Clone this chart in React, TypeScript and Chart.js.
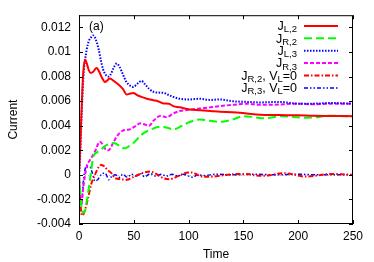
import React, { useEffect, useRef } from "react";
import { Chart, registerables } from "chart.js";

Chart.register(...registerables);

// ---- axis ticks ----
const xTicks = [0, 50, 100, 150, 200, 250];
const yTicks = [-0.004, -0.002, 0, 0.002, 0.004, 0.006, 0.008, 0.01, 0.012];

// ---- J_L,2 (red solid) ----
const jL2T = [0, 1, 2, 3, 4, 5.5, 7, 9, 10.7, 13, 16, 19, 21, 23.7, 26, 28, 31, 36, 40, 43.5, 46, 49.5, 53, 57, 62, 68, 72, 77, 82, 86, 92, 101, 110, 120, 129, 140, 153, 165, 183, 200, 214, 230, 250];
const jL2V = [0, 0.002, 0.0045, 0.0068, 0.0085, 0.0094, 0.0091, 0.0085, 0.0083, 0.0084, 0.0087, 0.0083, 0.0079, 0.00757, 0.0077, 0.00784, 0.0077, 0.00735, 0.007, 0.00654, 0.0066, 0.00667, 0.0065, 0.00635, 0.0062, 0.00608, 0.006, 0.00581, 0.0058, 0.0056, 0.0055, 0.00533, 0.00527, 0.0052, 0.00513, 0.0051, 0.005, 0.0049, 0.00487, 0.00485, 0.00481, 0.0048, 0.00478];

// ---- J_R,2 (green dashed) ----
const jR2T = [0, 1, 2, 3.5, 5.5, 7, 8.5, 10, 11.5, 13, 16, 19, 22, 25, 28, 31, 33, 36, 39, 42, 45, 49.5, 54, 58.7, 63, 68, 72, 77, 82, 86, 90, 95, 101, 110, 120, 128.6, 140, 150, 160, 168, 177, 186, 197, 208, 218, 226, 238, 250];
const jR2V = [0, -0.0012, -0.0024, -0.0031, -0.0029, -0.0022, -0.00135, -0.0004, 0.0006, 0.00148, 0.0018, 0.002, 0.0022, 0.00243, 0.0025, 0.0026, 0.00257, 0.0024, 0.0022, 0.00216, 0.0023, 0.00257, 0.003, 0.00338, 0.0036, 0.00378, 0.0039, 0.0039, 0.0038, 0.0037, 0.0038, 0.00405, 0.0043, 0.0045, 0.0044, 0.00432, 0.0045, 0.00478, 0.0047, 0.0046, 0.0047, 0.00478, 0.0047, 0.00465, 0.0047, 0.00481, 0.0048, 0.00473];

// ---- J_L,3 (blue dotted) ----
const jL3T = [0, 1, 2, 3, 4, 5.5, 7, 9, 11, 13, 15, 18, 20, 22, 24, 26.7, 29, 31, 34.4, 37, 40, 43, 46, 49.5, 53, 57, 60, 64, 68, 72, 77, 82, 86, 92, 101, 110, 120, 128, 140, 153, 165, 183, 200, 213, 230, 250];
const jL3V = [0, 0.0015, 0.004, 0.0062, 0.008, 0.0093, 0.0102, 0.0109, 0.0112, 0.01135, 0.0111, 0.0102, 0.0093, 0.0086, 0.0082, 0.008, 0.0082, 0.0086, 0.00906, 0.0088, 0.0082, 0.0076, 0.0073, 0.00716, 0.0074, 0.00765, 0.0074, 0.007, 0.00676, 0.0067, 0.00668, 0.0065, 0.00635, 0.0062, 0.00614, 0.0062, 0.0061, 0.00614, 0.006, 0.00594, 0.0059, 0.00594, 0.0058, 0.0058, 0.00585, 0.0058];

// ---- J_R,3 (magenta dashed) ----
const jR3T = [0, 1, 2, 4, 7, 10, 14.6, 19, 22, 24, 27, 31, 35, 40, 46, 52, 56, 60, 64, 68, 74, 80, 86, 92, 101, 110, 120, 128.6, 140, 153, 165, 183, 200, 213, 230, 250];
const jR3V = [0, -0.0018, -0.0024, -0.00095, 0.00067, 0.0012, 0.0019, 0.0027, 0.00243, 0.0021, 0.002, 0.00257, 0.0032, 0.0036, 0.0037, 0.004, 0.0042, 0.0041, 0.004, 0.0044, 0.0048, 0.0047, 0.005, 0.0052, 0.0053, 0.0054, 0.0055, 0.0056, 0.0057, 0.0058, 0.0057, 0.00573, 0.0058, 0.00575, 0.0058, 0.0058];

// ---- J_R,2 with V_L=0 (red dash-dot) ----
const jR2zT = [0, 1, 2.5, 4, 6, 8.5, 11, 14.6, 17, 20, 23, 26, 30, 33, 38, 43.5, 49, 55.7, 60, 65, 70, 74, 78, 83, 88, 93, 98, 103, 110, 116, 122, 130, 140, 147, 155, 162, 168, 176, 186, 195, 202, 208, 218, 229, 240, 250];
const jR2zV = [0, -0.0018, -0.0033, -0.0032, -0.0027, -0.0018, -0.0008, 0, 0.0005, 0.0008, 0.0007, 0.0004, 0.0001, -0.00027, -0.00035, -0.0004, -0.0002, 0.00008, 0.0002, 0.00027, 0.0001, -0.00014, -0.0003, -0.00035, -0.0002, 0, 0.00018, 0.0002, -0.00008, -0.00015, -0.00014, -0.00005, 0.00005, 0.00008, 0.00005, -0.00005, -0.00008, 0, 0.00014, 0.00005, -0.0001, -0.00014, -0.00005, 0.00008, 0.00005, 0];

// ---- J_R,3 with V_L=0 (blue dash-dot-dot) ----
const jR3zT = [0, 1, 2, 3, 4, 5.5, 7, 8.5, 10, 12, 14.6, 17, 19, 21, 23.7, 25.5, 27, 29, 33, 37, 40, 44, 48, 52, 56, 60, 65, 70, 75, 80, 85, 90, 95, 100, 104, 108, 115, 125, 140, 160, 180, 200, 220, 250];
const jR3zV = [0, -0.0018, -0.0025, -0.0018, -0.0005, 0.00045, 0.0007, 0.0006, 0.00062, 0.0002, -0.0005, -0.0004, -0.00014, 0.0001, 0.00014, -0.0001, -0.0004, -0.0002, 0, -0.0002, 0.00005, -0.0002, 0.00005, -0.0001, 0.0001, -0.00015, 0.0001, -0.0001, 0.00005, -0.0001, 0.00005, -0.0001, 0.00005, -0.0001, -0.0002, 0, -0.00005, 0.00005, 0, 0.00005, 0, 0.00005, 0, 0];

// ---- legend labels: [text, isSubscript] parts ----
const legendLabels: [string, boolean][][] = [
  [["J", false], ["L,2", true]],
  [["J", false], ["R,2", true]],
  [["J", false], ["L,3", true]],
  [["J", false], ["R,3", true]],
  [["J", false], ["R,2", true], [", V", false], ["L", true], ["=0", false]],
  [["J", false], ["R,3", true], [", V", false], ["L", true], ["=0", false]],
];

const FONT = "'Liberation Sans', Arial, Helvetica, sans-serif";

const mkDs = (label: string, t: number[], v: number[], color: string, dash: number[], width: number) => ({
  label,
  data: t.map((x, i) => ({ x, y: v[i] })),
  borderColor: color,
  backgroundColor: color,
  borderDash: dash,
  borderWidth: width,
  pointRadius: 0,
  fill: false,
  cubicInterpolationMode: "monotone" as const,
});

const framePlugin = {
  id: "frame",
  beforeDatasetsDraw(chart: any) {
    const { ctx, chartArea: a, scales } = chart;
    const y0 = scales.y.getPixelForValue(0);
    ctx.save();
    ctx.strokeStyle = "#bbbbbb";
    ctx.lineWidth = 1;
    ctx.setLineDash([1, 2]);
    ctx.beginPath();
    ctx.moveTo(a.left, Math.round(y0) + 0.5);
    ctx.lineTo(a.right, Math.round(y0) + 0.5);
    ctx.stroke();
    ctx.restore();
  },
  afterDatasetsDraw(chart: any) {
    const { ctx, chartArea: a, scales } = chart;
    ctx.save();
    // legend
    const ds = chart.data.datasets;
    const mainF = "12.5px " + FONT;
    const subF = "9.5px " + FONT;
    legendLabels.forEach((parts, i) => {
      const rowY = a.top + 10.7 + i * 12.4;
      let w = 0;
      parts.forEach(([txt, sub]) => {
        ctx.font = sub ? subF : mainF;
        w += ctx.measureText(txt).width;
      });
      let x = a.right - 56 - w;
      ctx.fillStyle = "#000";
      ctx.textAlign = "left";
      ctx.textBaseline = "alphabetic";
      parts.forEach(([txt, sub]) => {
        ctx.font = sub ? subF : mainF;
        ctx.fillText(txt, x, rowY + (sub ? 6.5 : 4.3));
        x += ctx.measureText(txt).width;
      });
      const d = ds[i];
      ctx.strokeStyle = d.borderColor;
      ctx.lineWidth = d.borderWidth;
      ctx.setLineDash(d.borderDash);
      ctx.beginPath();
      ctx.moveTo(a.right - 49, rowY);
      ctx.lineTo(a.right - 15, rowY);
      ctx.stroke();
    });
    ctx.setLineDash([]);
    // (a) label
    ctx.font = "12px " + FONT;
    ctx.fillStyle = "#000";
    ctx.fillText("(a)", a.left + 10, a.top + 14.5);
    // frame
    ctx.strokeStyle = "#000";
    ctx.lineWidth = 1;
    ctx.strokeRect(a.left + 0.5, a.top + 0.5, a.right - a.left - 1, a.bottom - a.top - 1);
    // inward ticks
    const tl = 4;
    ctx.beginPath();
    xTicks.forEach((v) => {
      const px = Math.round(scales.x.getPixelForValue(v)) + 0.5;
      ctx.moveTo(px, a.bottom);
      ctx.lineTo(px, a.bottom - tl);
      ctx.moveTo(px, a.top);
      ctx.lineTo(px, a.top + tl);
    });
    yTicks.forEach((v) => {
      const py = Math.round(scales.y.getPixelForValue(v)) + 0.5;
      ctx.moveTo(a.left, py);
      ctx.lineTo(a.left + tl, py);
      ctx.moveTo(a.right, py);
      ctx.lineTo(a.right - tl, py);
    });
    ctx.stroke();
    ctx.restore();
  },
};

export default function App() {
  const ref = useRef<HTMLCanvasElement | null>(null);
  useEffect(() => {
    document.body.style.margin = "0";
    if (!ref.current) return;
    const font = { family: FONT, size: 12 };
    const chart = new Chart(ref.current, {
      type: "line",
      data: {
        datasets: [
          mkDs("J_L,2", jL2T, jL2V, "#ff0000", [], 2),
          mkDs("J_R,2", jR2T, jR2V, "#00ff00", [8, 4], 2),
          mkDs("J_L,3", jL3T, jL3V, "#0000ff", [1.5, 1.5], 2),
          mkDs("J_R,3", jR3T, jR3V, "#ff00ff", [4, 2], 2),
          mkDs("J_R,2 V_L=0", jR2zT, jR2zV, "#ff0000", [5, 2, 1.5, 2], 2),
          mkDs("J_R,3 V_L=0", jR3zT, jR3zV, "#0000ff", [4, 2, 1.5, 2, 1.5, 2], 1.5),
        ] as any,
      },
      options: {
        animation: false,
        responsive: false,
        devicePixelRatio: 1,
        layout: { padding: { left: 0, right: 21, top: 14, bottom: 0 } },
        plugins: { legend: { display: false }, tooltip: { enabled: false } },
        scales: {
          x: {
            type: "linear",
            min: 0,
            max: 250,
            afterBuildTicks: (s: any) => {
              s.ticks = xTicks.map((v) => ({ value: v }));
            },
            afterFit: (s: any) => {
              s.height = 38;
            },
            ticks: { font, color: "#000", padding: 5.5, maxRotation: 0, autoSkip: false },
            grid: { display: false, drawTicks: false },
            border: { display: false },
            title: { display: true, text: "Time", font, color: "#000", padding: { top: 0, bottom: 0 } },
          },
          y: {
            type: "linear",
            min: -0.004,
            max: 0.013,
            afterBuildTicks: (s: any) => {
              s.ticks = yTicks.map((v) => ({ value: v }));
            },
            afterFit: (s: any) => {
              s.width = 79;
            },
            ticks: {
              font,
              color: "#000",
              padding: 8,
              autoSkip: false,
              callback: (v: any) => String(Number(Number(v).toFixed(4))),
            },
            grid: { display: false, drawTicks: false },
            border: { display: false },
            title: { display: true, text: "Current", font, color: "#000", padding: { top: 6, bottom: 0 } },
          },
        },
      },
      plugins: [framePlugin],
    });
    return () => chart.destroy();
  }, []);
  return (
    <div style={{ width: 374, height: 262 }}>
      <canvas ref={ref} width={374} height={262} />
    </div>
  );
}
